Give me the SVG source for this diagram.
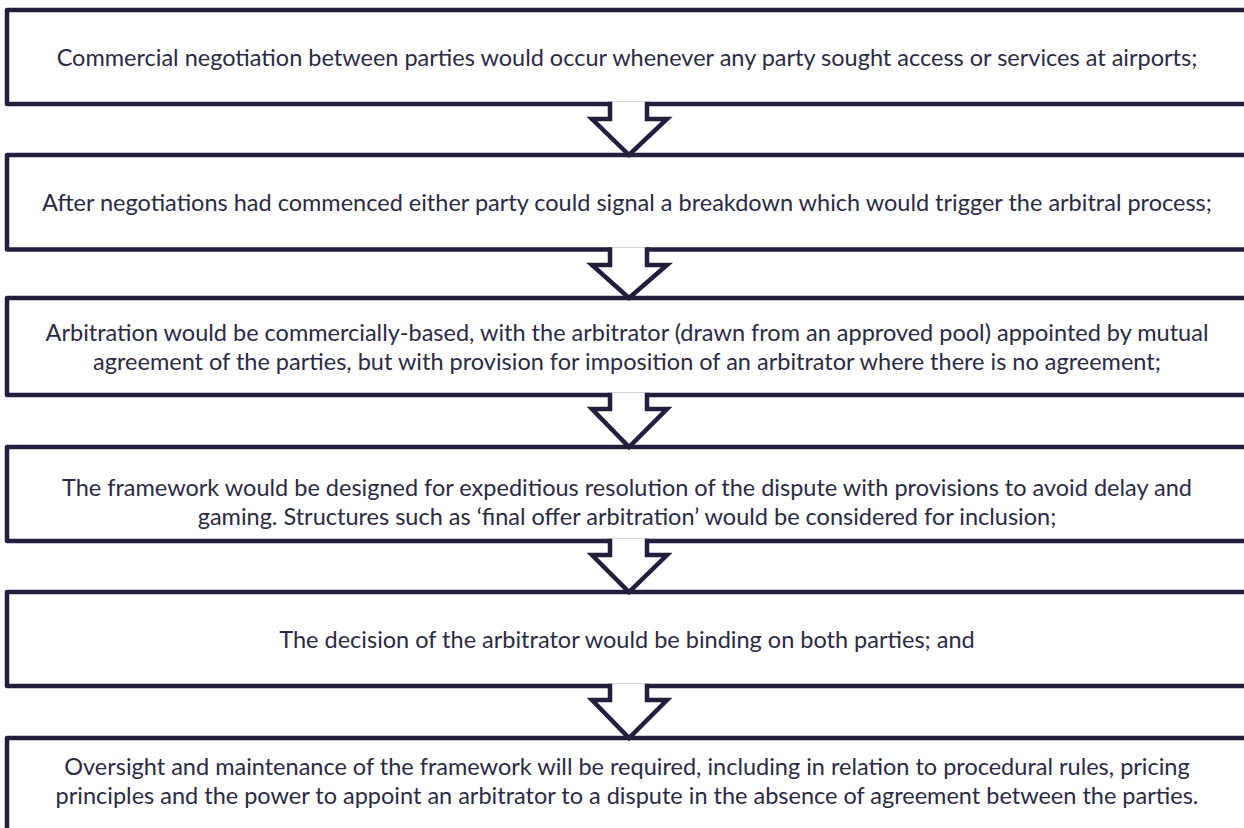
<svg xmlns="http://www.w3.org/2000/svg" width="1244" height="828" viewBox="0 0 1244 828">
  <style>
    .box { fill: #ffffff; stroke: #221f3d; stroke-width: 4.5; stroke-linejoin: round; }
    .arrow { fill: #ffffff; stroke: #221f3d; stroke-width: 4.5; stroke-linejoin: miter; }
    text { font-family: Lato, "Liberation Sans", sans-serif; font-size: 23.5px; fill: #2b2a44; text-anchor: middle; }
  </style>
  <rect width="1244" height="828" fill="#ffffff"/>
  <g id="node1">
    <rect class="box" x="7" y="10" width="1240" height="94"/>
    <text x="627" y="66">Commercial negotiation between parties would occur whenever any party sought access or services at airports;</text>
  </g>
  <g id="node2">
    <rect class="box" x="7" y="155" width="1240" height="94.5"/>
    <text x="627" y="211">After negotiations had commenced either party could signal a breakdown which would trigger the arbitral process;</text>
  </g>
  <g id="node3">
    <rect class="box" x="7" y="298" width="1240" height="97"/>
    <text x="627" y="341">Arbitration would be commercially-based, with the arbitrator (drawn from an approved pool) appointed by mutual</text>
    <text x="627" y="370">agreement of the parties, but with provision for imposition of an arbitrator where there is no agreement;</text>
  </g>
  <g id="node4">
    <rect class="box" x="7" y="447" width="1240" height="94"/>
    <text x="627" y="496">The framework would be designed for expeditious resolution of the dispute with provisions to avoid delay and</text>
    <text x="627" y="525">gaming. Structures such as ‘final offer arbitration’ would be considered for inclusion;</text>
  </g>
  <g id="node5">
    <rect class="box" x="7" y="592" width="1240" height="94"/>
    <text x="627" y="648">The decision of the arbitrator would be binding on both parties; and</text>
  </g>
  <g id="node6">
    <rect class="box" x="7" y="738" width="1240" height="100"/>
    <text x="627" y="775">Oversight and maintenance of the framework will be required, including in relation to procedural rules, pricing</text>
    <text x="627" y="804">principles and the power to appoint an arbitrator to a dispute in the absence of agreement between the parties.</text>
  </g>
  <g id="connectors">
    <path class="arrow" d="M610,101.8 V119 H592 L629,155 L667,119 H647 V101.8"/>
    <path class="arrow" d="M610,247.3 V265 H592 L629,298 L667,265 H647 V247.3"/>
    <path class="arrow" d="M610,392.8 V409 H592 L629,447 L667,409 H647 V392.8"/>
    <path class="arrow" d="M610,538.8 V555 H592 L629,592 L667,555 H647 V538.8"/>
    <path class="arrow" d="M610,683.8 V700 H592 L629,738 L667,700 H647 V683.8"/>
  </g>
</svg>
